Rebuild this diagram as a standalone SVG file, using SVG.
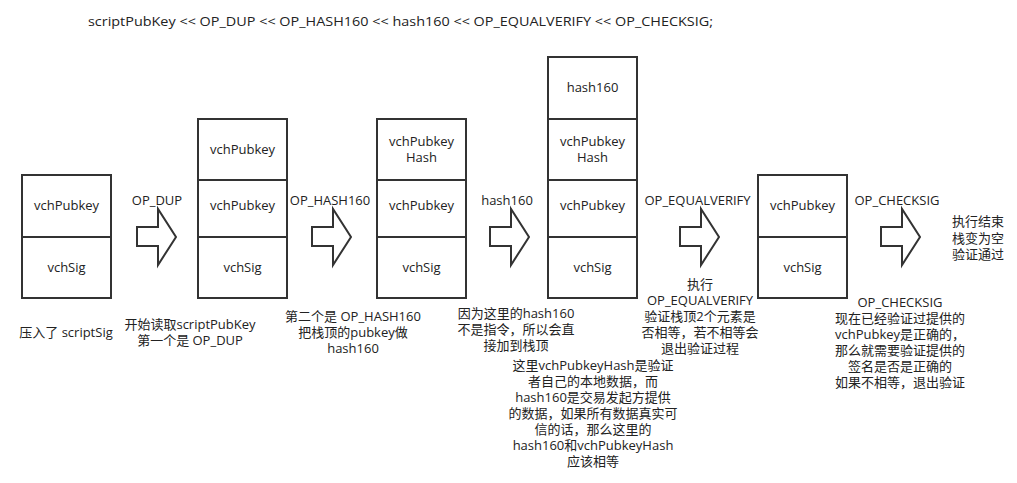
<svg xmlns="http://www.w3.org/2000/svg" xmlns:xlink="http://www.w3.org/1999/xlink" width="1017" height="483" viewBox="0 0 1017 483">
<style>
  text { font-family: "Open Sans", "Noto Sans CJK SC", sans-serif; font-size: 13px; fill: #222; text-anchor: middle; }
  .box { fill: #fff; stroke: #333; stroke-width: 2; }
  .arr { fill: #fff; stroke: #333; stroke-width: 2; stroke-linejoin: miter; }
</style>
<defs>
  <polygon id="blockArrow" class="arr" points="137,227 158,227 158,209 176,237 158,265 158,246 137,246"/>
</defs>
<rect width="1017" height="483" fill="#fff"/>

<text x="88" y="26" style="text-anchor:start" textLength="625" lengthAdjust="spacingAndGlyphs">scriptPubKey &lt;&lt; OP_DUP &lt;&lt; OP_HASH160 &lt;&lt; hash160 &lt;&lt; OP_EQUALVERIFY &lt;&lt; OP_CHECKSIG;</text>

<g id="stack1">
  <rect class="box" x="22" y="175" width="89" height="62"/>
  <rect class="box" x="22" y="237" width="89" height="61"/>
  <text x="66.5" y="210">vchPubkey</text>
  <text x="66.5" y="272">vchSig</text>
  <text x="66" y="337">压入了 scriptSig</text>
</g>

<g id="stack2">
  <rect class="box" x="198" y="119" width="89" height="61"/>
  <rect class="box" x="198" y="180" width="89" height="57"/>
  <rect class="box" x="198" y="237" width="89" height="61"/>
  <text x="242.5" y="154">vchPubkey</text>
  <text x="242.5" y="210">vchPubkey</text>
  <text x="242.5" y="272">vchSig</text>
  <text x="190" y="329">开始读取scriptPubKey</text>
  <text x="190" y="345">第一个是 OP_DUP</text>
</g>

<g id="stack3">
  <rect class="box" x="377" y="119" width="89" height="61"/>
  <rect class="box" x="377" y="180" width="89" height="57"/>
  <rect class="box" x="377" y="237" width="89" height="61"/>
  <text x="421.5" y="146">vchPubkey</text>
  <text x="421.5" y="162">Hash</text>
  <text x="421.5" y="210">vchPubkey</text>
  <text x="421.5" y="272">vchSig</text>
  <text x="353" y="321">第二个是 OP_HASH160</text>
  <text x="353" y="337">把栈顶的pubkey做</text>
  <text x="353" y="353">hash160</text>
</g>

<g id="stack4">
  <rect class="box" x="548" y="57" width="89" height="62"/>
  <rect class="box" x="548" y="119" width="89" height="61"/>
  <rect class="box" x="548" y="180" width="89" height="57"/>
  <rect class="box" x="548" y="237" width="89" height="61"/>
  <text x="592.5" y="92">hash160</text>
  <text x="592.5" y="146">vchPubkey</text>
  <text x="592.5" y="162">Hash</text>
  <text x="592.5" y="210">vchPubkey</text>
  <text x="592.5" y="272">vchSig</text>
  <text x="516" y="318">因为这里的hash160</text>
  <text x="516" y="334">不是指令，所以会直</text>
  <text x="516" y="350">接加到栈顶</text>
  <text x="593" y="370">这里vchPubkeyHash是验证</text>
  <text x="593" y="386">者自己的本地数据，而</text>
  <text x="593" y="402">hash160是交易发起方提供</text>
  <text x="593" y="418">的数据，如果所有数据真实可</text>
  <text x="593" y="434">信的话，那么这里的</text>
  <text x="593" y="450">hash160和vchPubkeyHash</text>
  <text x="593" y="466">应该相等</text>
</g>

<g id="stack5">
  <rect class="box" x="758" y="175" width="89" height="62"/>
  <rect class="box" x="758" y="237" width="89" height="61"/>
  <text x="802.5" y="210">vchPubkey</text>
  <text x="802.5" y="272">vchSig</text>
  <text x="700" y="289">执行</text>
  <text x="700" y="305">OP_EQUALVERIFY</text>
  <text x="700" y="321">验证栈顶2个元素是</text>
  <text x="700" y="337">否相等，若不相等会</text>
  <text x="700" y="353">退出验证过程</text>
  <text x="900" y="307">OP_CHECKSIG</text>
  <text x="900" y="323">现在已经验证过提供的</text>
  <text x="900" y="339">vchPubkey是正确的，</text>
  <text x="900" y="355">那么就需要验证提供的</text>
  <text x="900" y="371">签名是否是正确的</text>
  <text x="900" y="387">如果不相等，退出验证</text>
</g>

<g id="end">
  <text x="978" y="226">执行结束</text>
  <text x="978" y="243">栈变为空</text>
  <text x="978" y="259">验证通过</text>
</g>

<g id="connectors">
  <use xlink:href="#blockArrow"/>
  <text x="157" y="205">OP_DUP</text>
  <use xlink:href="#blockArrow" transform="translate(175,0)"/>
  <text x="330" y="205">OP_HASH160</text>
  <use xlink:href="#blockArrow" transform="translate(353,0)"/>
  <text x="507" y="205">hash160</text>
  <use xlink:href="#blockArrow" transform="translate(543,0)"/>
  <text x="697.5" y="205">OP_EQUALVERIFY</text>
  <use xlink:href="#blockArrow" transform="translate(744,0)"/>
  <text x="897" y="205">OP_CHECKSIG</text>
</g>
</svg>
